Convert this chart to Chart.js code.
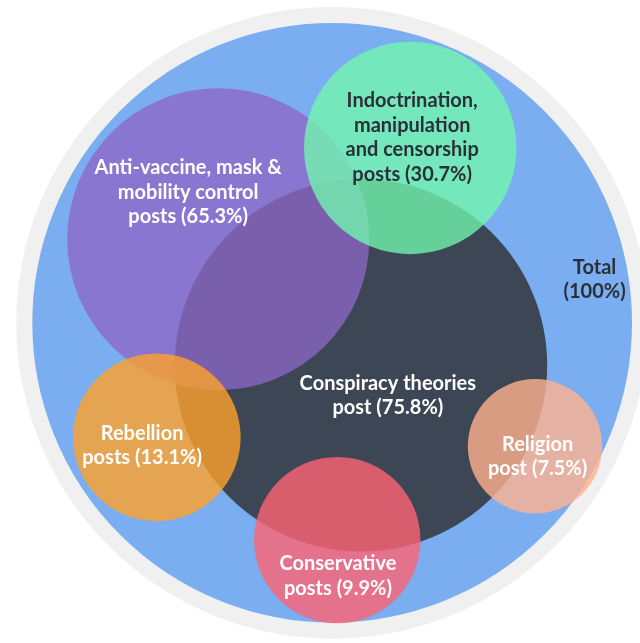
<!DOCTYPE html>
<html>
<head>
<meta charset="utf-8">
<script src="https://cdn.jsdelivr.net/npm/chart.js@4.4.1/dist/chart.umd.min.js"></script>
<style>
    body { margin: 0; background: #ffffff; }
    #wrap { width: 640px; height: 643px; position: relative; }
</style>
</head>
<body>
<div id="wrap"><canvas id="myChart"></canvas></div>
<script>
// groups of posts, in drawing order (back to front)
var categories = [
    ["Total", "(100%)"],
    ["Conspiracy theories", "post (75.8%)"],
    ["Anti-vaccine, mask &", "mobility control", "posts (65.3%)"],
    ["Indoctrination,", "manipulation", "and censorship", "posts (30.7%)"],
    ["Rebellion", "posts (13.1%)"],
    ["Religion", "post (7.5%)"],
    ["Conservative", "posts (9.9%)"]
];
var shares = [100, 75.8, 65.3, 30.7, 13.1, 7.5, 9.9];

// bubble values (0-100 on both axes, y from the top)
var bubbleX = [51.9, 56.4, 34.1, 64.1, 24.5, 83.6, 52.7];
var bubbleY = [50.2, 56.8, 37.2, 23.0, 68.0, 69.4, 84.0];
var bubbleR = [48.1, 29.1, 23.6, 16.6, 13.1, 10.5, 13.0];

// where each label sits
var labelX = [92.9, 60.6, 29.4, 64.4, 22.2, 84.0, 52.8];
var labelY = [43.5, 61.5, 29.9, 21.4, 69.3, 71.0, 89.6];

var fills = [
    '#7aaef0',
    '#3d4654',
    'rgba(140,103,199,0.78)',
    'rgba(114,247,174,0.78)',
    'rgba(255,161,42,0.8)',
    'rgba(255,177,142,0.8)',
    'rgba(255,99,115,0.8)'
];
var textColors = ['#2b3038', '#ffffff', '#ffffff', '#2b3038', '#ffffff', '#ffffff', '#ffffff'];

var points = [];
for (let i in bubbleX) {
    points.push({ x: bubbleX[i], y: bubbleY[i] });
}

// radius in pixels, taken from the x scale
function pixelRadius(ctx) {
    var s = ctx.chart.scales.x;
    return s.getPixelForValue(bubbleR[ctx.dataIndex]) - s.getPixelForValue(0);
}

var labelPlugin = {
    id: 'circleLabels',
    afterDatasetsDraw: function (chart) {
        var c = chart.ctx;
        var sx = chart.scales.x;
        var sy = chart.scales.y;
        c.save();
        c.font = "bold 20px Lato, 'Open Sans', sans-serif";
        c.textAlign = 'center';
        c.textBaseline = 'middle';
        for (let i in categories) {
            let lines = categories[i];
            let px = sx.getPixelForValue(labelX[i]);
            let py = sy.getPixelForValue(labelY[i]);
            let top = py - (lines.length - 1) * 24.5 / 2;
            c.fillStyle = textColors[i];
            for (let j = 0; j < lines.length; j++) {
                c.fillText(lines[j], px, top + j * 24.5);
            }
        }
        c.restore();
    }
};

var ctx = document.getElementById('myChart').getContext('2d');
var myChart = new Chart(ctx, {
    type: 'scatter',
    data: {
        labels: categories.map(function (l) { return l.join(' '); }),
        datasets: [{
            label: 'share of posts',
            data: points,
            showLine: false,
            pointBackgroundColor: fills,
            pointBorderColor: '#f0f0f0',
            pointBorderWidth: [16, 0, 0, 0, 0, 0, 0],
            pointRadius: pixelRadius,
            clip: false
        }]
    },
    options: {
        responsive: true,
        maintainAspectRatio: false,
        animation: false,
        events: [],
        layout: { padding: 0 },
        scales: {
            x: { min: 0, max: 100, display: false },
            y: { min: 0, max: 100, reverse: true, display: false }
        },
        plugins: {
            legend: { display: false },
            tooltip: { enabled: false }
        }
    },
    plugins: [labelPlugin]
});
</script>
</body>
</html>
